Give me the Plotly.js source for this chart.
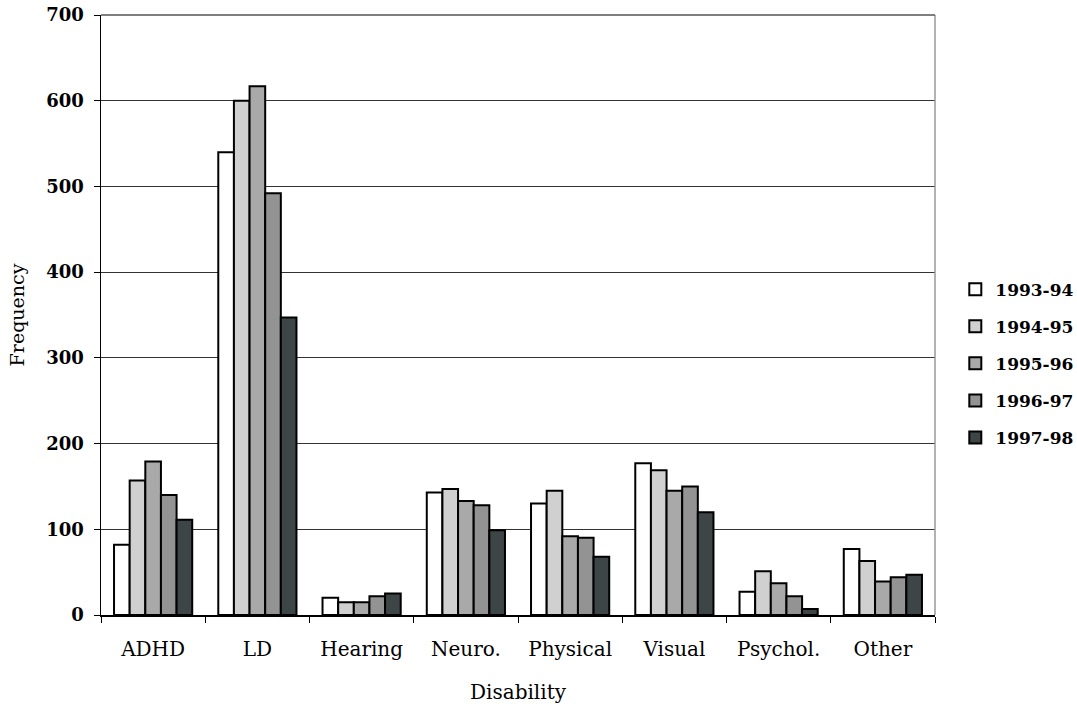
<!DOCTYPE html>
<html>
<head>
<meta charset="utf-8">
<script src="https://cdn.plot.ly/plotly-3.0.1.min.js"></script>
<style>html,body{margin:0;padding:0;background:#fff;}#chart{width:1077px;height:706px;}</style>
</head>
<body>
<div id="chart"></div>
<script>
const categories = ["ADHD", "LD", "Hearing", "Neuro.", "Physical", "Visual", "Psychol.", "Other"];
const seriesNames = ["1993-94", "1994-95", "1995-96", "1996-97", "1997-98"];
const v1993 = [82, 540, 20, 143, 130, 177, 27, 77];
const v1994 = [157, 600, 15, 147, 145, 169, 51, 63];
const v1995 = [179, 617, 15, 133, 92, 145, 37, 39];
const v1996 = [140, 492, 22, 128, 90, 150, 22, 44];
const v1997 = [111, 347, 25, 99, 68, 120, 7, 47];
const colors = ["#ffffff", "#d0d0d0", "#a9a9a9", "#939393", "#3d4547"];
const allValues = [v1993, v1994, v1995, v1996, v1997];

const serif = "'DejaVu Serif', serif";
const traces = allValues.map((vals, i) => ({
  type: "bar",
  name: seriesNames[i],
  x: categories,
  y: vals,
  legendgroup: "g" + i,
  marker: {color: colors[i], line: {color: "#000", width: 2}},
  hoverinfo: "x+y+name"
}));

const layout = {
  width: 1077, height: 706,
  margin: {l: 101, r: 142, t: 15, b: 91},
  paper_bgcolor: "#fff", plot_bgcolor: "#fff",
  barmode: "group", bargap: 0.25, bargroupgap: 0,
  font: {family: serif, color: "#000"},
  xaxis: {
    type: "category",
    tickson: "boundaries",
    ticks: "outside", ticklen: 6, tickcolor: "#000", tickwidth: 1,
    ticklabelstandoff: 15,
    showline: true, linecolor: "#000", linewidth: 1.5,
    showgrid: false,
    automargin: false,
    tickfont: {family: serif, size: 20, color: "#000"},
    title: {text: "Disability", font: {family: serif, size: 20}, standoff: 25}
  },
  yaxis: {
    range: [0, 700], dtick: 100, tick0: 0,
    ticks: "outside", ticklen: 6, tickcolor: "#000",
    ticklabelstandoff: 6,
    showline: true, linecolor: "#000", linewidth: 1.5,
    showgrid: true, gridcolor: "#333", gridwidth: 1,
    zeroline: false,
    automargin: false,
    tickfont: {family: serif, size: 18, color: "#000", weight: "bold"},
    title: {text: "Frequency", font: {family: serif, size: 19}, standoff: 16}
  },
  legend: {
    xref: "container", yref: "container",
    x: 0.887, xanchor: "left", y: 0.485, yanchor: "middle",
    font: {family: serif, size: 17, weight: "bold"},
    tracegroupgap: 12,
    itemwidth: 30,
    bgcolor: "rgba(0,0,0,0)"
  },
  shapes: [
    {type: "line", xref: "paper", yref: "paper", x0: 1, x1: 1, y0: 0, y1: 1, line: {color: "#999", width: 1.5}},
    {type: "line", xref: "paper", yref: "paper", x0: 0, x1: 1, y0: 1, y1: 1, line: {color: "#555", width: 1.5}}
  ]
};

Plotly.newPlot("chart", traces, layout, {displayModeBar: false, staticPlot: true});
</script>
</body>
</html>
